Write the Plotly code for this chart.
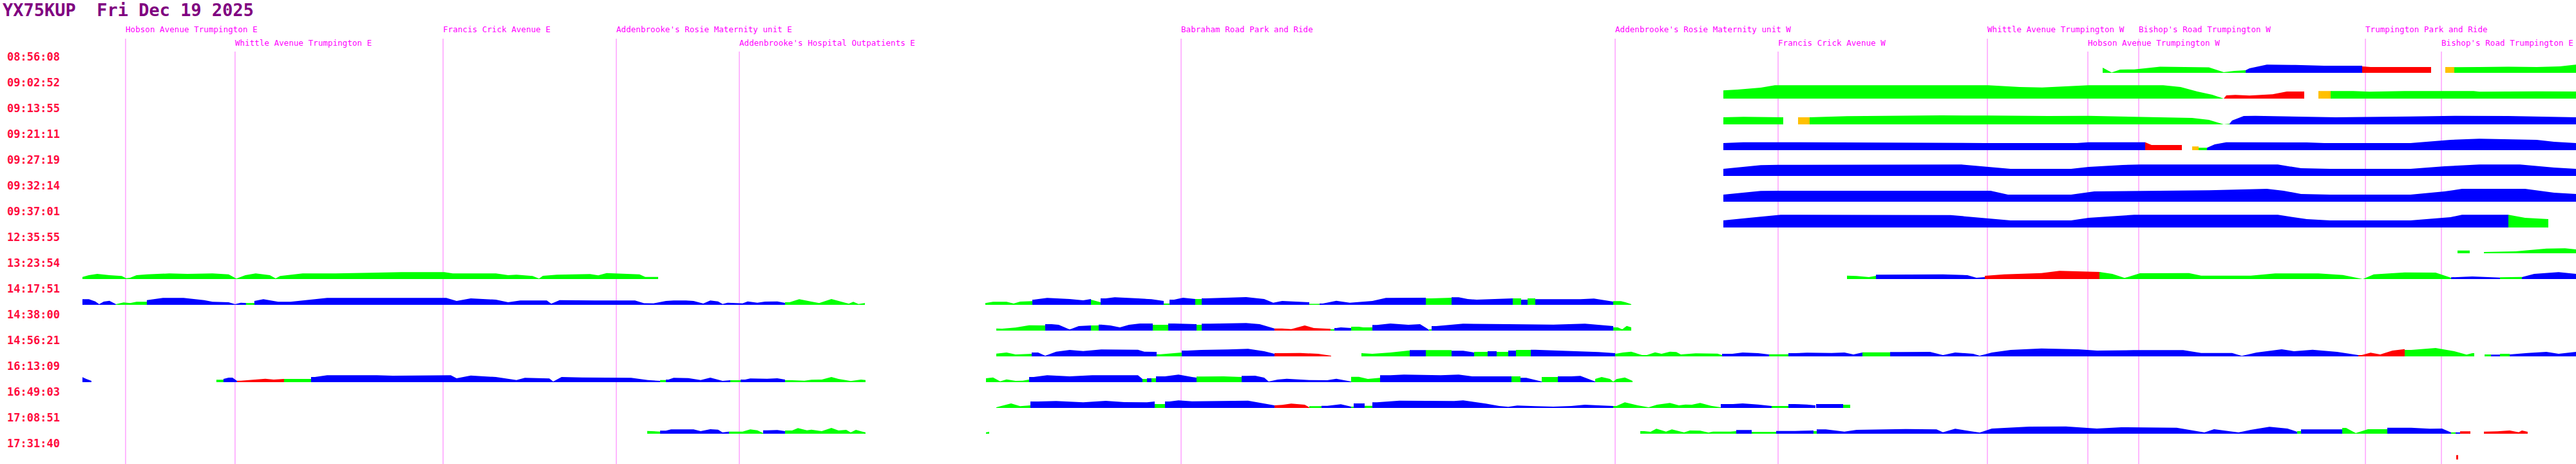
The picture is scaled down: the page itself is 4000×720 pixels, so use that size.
import plotly.graph_objects as go

# ---------------- data ----------------
TITLE = "YX75KUP\u00a0\u00a0Fri Dec 19 2025"

TIMES = ["08:56:08", "09:02:52", "09:13:55", "09:21:11", "09:27:19", "09:32:14",
         "09:37:01", "12:35:55", "13:23:54", "14:17:51", "14:38:00", "14:56:21",
         "16:13:09", "16:49:03", "17:08:51", "17:31:40"]

STOP_NAMES = ["Hobson Avenue Trumpington E", "Whittle Avenue Trumpington E",
              "Francis Crick Avenue E", "Addenbrooke's Rosie Maternity unit E",
              "Addenbrooke's Hospital Outpatients E", "Babraham Road Park and Ride",
              "Addenbrooke's Rosie Maternity unit W", "Francis Crick Avenue W",
              "Whittle Avenue Trumpington W", "Hobson Avenue Trumpington W",
              "Bishop's Road Trumpington W", "Trumpington Park and Ride",
              "Bishop's Road Trumpington E"]
STOP_DIST = [195, 365, 688, 957, 1148, 1834, 2508, 2761, 3086, 3242, 3321, 3673, 3791]

# segments: (state, distances, speeds)
ROW_0856 = [
    ("G", [3265, 3279, 3292, 3314, 3354, 3430, 3453, 3470, 3487], [8, 0.5, 5, 5.3, 9.5, 8.5, 1, 3, 4]),
    ("B", [3487, 3493, 3520, 3564, 3609, 3668], [4, 7, 12.7, 12.3, 11, 11]),
    ("R", [3668, 3681, 3775], [10, 9, 9]),
    ("O", [3797, 3811], [9, 9]),
    ("G", [3811, 3850, 3895, 3939, 3975, 3993, 4000], [8.7, 9, 9.5, 9, 10, 12, 12.7]),
]
ROW_0902 = [
    ("G", [2676, 2698, 2734, 2756, 3087, 3136, 3171, 3243, 3359, 3386, 3412, 3435, 3453],
     [12.7, 14, 17, 20.7, 20.7, 18, 17.3, 20.7, 20.7, 18, 11, 6, 0]),
    ("R", [3453, 3457, 3471, 3493, 3529, 3551, 3578], [0, 5, 5.7, 4.7, 6.7, 11, 11]),
    ("O", [3600, 3619], [11.7, 11.7]),
    ("G", [3619, 3654, 3680, 3734, 3841, 3850, 3877, 3939, 4000],
     [11.7, 11.7, 10.7, 11.7, 11.7, 10.7, 11, 11.3, 11]),
]
ROW_0913 = [
    ("G", [2676, 2707, 2769], [11, 11.7, 11]),
    ("O", [2792, 2810], [11, 11]),
    ("G", [2810, 2868, 2975, 3015, 3087, 3180, 3243, 3314, 3404, 3430, 3453, 3462],
     [11, 12.7, 13.7, 14, 13.7, 13, 13.3, 11.7, 10, 7, 0, 1]),
    ("B", [3462, 3466, 3484, 3502, 3582, 3627, 3743, 3787, 3814, 3895, 3957, 4000],
     [1, 6, 13, 13.3, 11.7, 11, 12.3, 13, 13.3, 13, 12, 11]),
]
ROW_0921 = [
    ("B", [2676, 2707, 2779, 3082, 3225, 3243, 3331], [11, 12.3, 12.3, 11, 11, 12.3, 12.3]),
    ("R", [3331, 3341, 3388], [12.3, 8, 8]),
    ("O", [3404, 3414], [5.7, 5.7]),
    ("G", [3414, 3427], [3.7, 3.7]),
    ("B", [3427, 3439, 3457, 3582, 3609, 3743, 3805, 3850, 3939, 3966, 4000],
     [3.7, 9, 12.3, 12, 11, 11, 16, 17.7, 16, 13, 11]),
]
ROW_0927 = [
    ("B", [2676, 2734, 2761, 3046, 3100, 3122, 3216, 3243, 3296, 3323, 3537, 3573, 3618, 3743,
           3796, 3850, 3913, 3966, 4000],
     [11, 16.7, 17.3, 17.7, 13, 11, 11, 14, 17, 17.7, 17.7, 12, 11, 11, 15, 17.7, 17.7, 13, 11]),
]
ROW_0932 = [
    ("B", [2676, 2734, 2761, 3091, 3118, 3216, 3252, 3430, 3520, 3546, 3573, 3618, 3743, 3796,
           3823, 3921, 3966, 4000],
     [11, 16.7, 17, 17, 11, 11, 16, 17.7, 20, 17, 12, 11, 11, 16, 20, 20, 14, 12]),
]
ROW_0937 = [
    ("B", [2676, 2716, 2765, 3029, 3100, 3122, 3216, 3243, 3314, 3537, 3582, 3618, 3743, 3805,
           3823, 3895],
     [11, 15, 19.7, 19.3, 13, 11, 11, 15, 19.7, 19.7, 13, 11, 11, 16, 19.7, 19.7]),
    ("G", [3895, 3921, 3957], [19.7, 15, 13]),
]
ROW_1235 = [
    ("G", [3816, 3835], [4.3, 4.3]),
    ("G", [3857, 3906, 3925, 3954, 3983, 4000], [2, 3, 5, 7.3, 7.7, 6]),
]
ROW_1323 = [
    ("G", [128, 138, 151, 170, 189, 196, 202, 212, 228, 263, 291, 330, 355, 367, 381, 397, 419,
           428, 435, 470, 521, 575, 623, 690, 703, 770, 789, 802, 827, 837, 843, 865, 916, 929,
           942, 993, 1002, 1022],
     [3.3, 6, 8, 6, 4.7, 1.3, 2, 6, 7.3, 8.7, 8, 8.7, 7.3, 0.7, 6, 8.7, 6, 1, 4.7, 8.7, 8.7,
      9.7, 10.7, 10.7, 8.7, 8.7, 6, 6.7, 4.7, 0.7, 5, 6.7, 7.7, 5.7, 9.3, 7.3, 3.3, 3.3]),
    ("G", [2868, 2883, 2902, 2913], [5.3, 4.7, 3, 5]),
    ("B", [2913, 3017, 3055, 3069, 3082], [6.7, 7.3, 6, 2, 3]),
    ("R", [3082, 3112, 3170, 3198, 3246, 3260], [5, 7.3, 9.3, 12.7, 11, 11]),
    ("G", [3260, 3280, 3299, 3323, 3399, 3418, 3495, 3533, 3600, 3638, 3669, 3686, 3734, 3782, 3806],
     [11, 8, 1.7, 9, 9.3, 5.3, 5.3, 8.7, 8.7, 6.3, 0, 7.3, 10.3, 10, 2]),
    ("B", [3806, 3839, 3882], [2.7, 4, 2.3]),
    ("G", [3882, 3916], [2.7, 3.3]),
    ("B", [3916, 3935, 3973, 4000], [3, 8, 10.7, 8]),
]
ROW_1417 = [
    ("B", [128, 138, 148, 154, 161, 170, 180], [8.7, 8.7, 5.3, 1, 5, 6.3, 1]),
    ("G", [180, 192, 202, 212, 228], [1, 3.7, 2.7, 4.7, 4.7]),
    ("B", [228, 253, 285, 317, 330, 355, 365, 374, 382], [7.3, 10.7, 10.7, 7.3, 4.7, 4, 1, 3.3, 2.7]),
    ("G", [382, 395], [2.7, 2.7]),
    ("B", [395, 409, 432, 451, 483, 508, 610, 693, 709, 731, 770, 789, 808, 849, 856, 869, 923,
           986, 1000, 1015, 1034, 1046, 1065, 1077, 1092, 1103, 1115, 1122, 1130, 1153, 1161,
           1176, 1188, 1207, 1219],
     [6, 8.7, 4.7, 4.7, 8, 10.7, 10.7, 10.7, 6, 10, 8, 4, 6.7, 6.7, 1.7, 7.3, 6.7, 6.7, 2.5,
      2.3, 6, 6.7, 6.7, 6, 2, 6.7, 5.3, 1.3, 3.3, 2.3, 5.3, 3.3, 5, 5.3, 3]),
    ("G", [1219, 1226, 1241, 1260, 1272, 1291, 1306, 1318, 1325, 1333, 1343],
     [4, 4, 8.7, 5, 2.7, 9, 5, 1.7, 4.7, 1.3, 2.7]),
    ("G", [1530, 1542, 1563, 1574, 1584, 1603], [2.7, 4.7, 4.7, 2, 5, 5.7]),
    ("B", [1603, 1605, 1626, 1661, 1682, 1694], [8, 8, 10.7, 9, 7, 9]),
    ("G", [1694, 1709], [8, 4]),
    ("B", [1709, 1717, 1731, 1767, 1788, 1807], [10, 10, 11.7, 10, 8.7, 6]),
    ("G", [1807, 1816], [2, 2]),
    ("B", [1816, 1823, 1837, 1856], [8, 8, 11, 9]),
    ("G", [1856, 1866], [9, 9]),
    ("B", [1866, 1872, 1900, 1935, 1963, 1977, 1991, 2030, 2033], [10, 10, 11, 12, 9, 3.3, 6, 4, 4]),
    ("G", [2033, 2049], [1.5, 1.5]),
    ("B", [2049, 2054, 2075, 2096, 2131, 2152, 2214], [2, 2, 6.3, 3.3, 6, 10.7, 11]),
    ("G", [2214, 2222, 2244, 2254], [10, 10, 11, 11]),
    ("B", [2254, 2265, 2279, 2293, 2342, 2349], [11.7, 11.7, 9, 8, 10, 10]),
    ("G", [2349, 2362], [10, 10]),
    ("B", [2362, 2372], [8, 8]),
    ("G", [2372, 2384], [10, 10]),
    ("B", [2384, 2412, 2454, 2475, 2496, 2505], [8.7, 8.7, 8.7, 9.7, 6.7, 5]),
    ("G", [2505, 2517, 2524, 2533], [5.7, 5.7, 4, 1]),
]
ROW_1438 = [
    ("G", [1547, 1556, 1577, 1598, 1623], [3.3, 3, 4.7, 8.3, 8]),
    ("B", [1623, 1633, 1644, 1661, 1675, 1694], [10, 10, 9, 1.7, 7, 8]),
    ("G", [1694, 1706], [8, 8]),
    ("B", [1706, 1710, 1724, 1739, 1753, 1770, 1790], [9.3, 9.3, 8, 5, 9, 11, 11]),
    ("G", [1790, 1814], [9, 9]),
    ("B", [1814, 1823, 1858], [11, 11, 10]),
    ("G", [1858, 1866], [9, 9]),
    ("B", [1866, 1879, 1935, 1956, 1979], [10.7, 10.7, 11.7, 10, 3.3]),
    ("R", [1979, 1991, 2005, 2026, 2040, 2066], [3.3, 3.3, 2.3, 8, 4, 2.7]),
    ("G", [2066, 2072], [2, 2]),
    ("B", [2072, 2075, 2082, 2098], [4, 4, 5, 4]),
    ("G", [2098, 2110, 2117, 2131], [6, 6, 5, 5]),
    ("B", [2131, 2138, 2159, 2187, 2205, 2216, 2219], [8.7, 8.7, 11, 9, 10, 3.3, 1]),
    ("G", [2219, 2223], [2, 2]),
    ("B", [2223, 2230, 2272, 2342, 2412, 2461, 2496, 2505], [7, 7, 10.7, 10, 9.3, 10.7, 8, 7]),
    ("G", [2505, 2512, 2519, 2526, 2533], [5, 5, 2, 7.3, 5]),
]
ROW_1456 = [
    ("G", [1547, 1563, 1577, 1584, 1602], [4.3, 6, 3, 3.3, 4]),
    ("B", [1602, 1612, 1623, 1640, 1661, 1682, 1710, 1767, 1777, 1796],
     [6, 6, 1, 7.3, 10, 8.3, 10.7, 10.3, 7.3, 7]),
    ("G", [1796, 1802, 1823, 1835], [3.3, 3.3, 4.7, 6]),
    ("B", [1835, 1844, 1865, 1907, 1938, 1963, 1979], [9, 9, 10, 10.7, 11.7, 8, 4]),
    ("R", [1979, 1991, 2019, 2047, 2067], [5, 5, 5.3, 4, 1]),
    ("G", [2114, 2131, 2159, 2187, 2189], [5, 4, 6, 9, 9]),
    ("B", [2189, 2214], [9.7, 9.7]),
    ("G", [2214, 2254], [9.7, 9.7]),
    ("B", [2254, 2272, 2289], [8.7, 8.7, 6]),
    ("G", [2289, 2310], [7, 7]),
    ("B", [2310, 2324], [8, 8]),
    ("G", [2324, 2342], [7, 7]),
    ("B", [2342, 2354], [9, 9]),
    ("G", [2354, 2377], [10, 10]),
    ("B", [2377, 2384, 2412, 2454, 2482, 2508], [10.3, 10.3, 9.3, 8, 6.7, 5]),
    ("G", [2508, 2510, 2520, 2533, 2540, 2550, 2557, 2570, 2580, 2593, 2603, 2610, 2633, 2667, 2674],
     [4.3, 4.3, 6, 7.3, 5, 2, 2, 6.3, 4, 7.3, 6.7, 3, 4.7, 4.3, 2]),
    ("B", [2674, 2690, 2706, 2730, 2747], [4, 4, 6, 5, 3]),
    ("G", [2747, 2777], [3.3, 3.3]),
    ("B", [2777, 2787, 2806, 2844, 2864, 2878, 2892], [5, 5, 5.7, 5.3, 6, 3, 6]),
    ("G", [2892, 2935], [6.3, 6.3]),
    ("B", [2935, 2950, 2997, 3017, 3036, 3064, 3074, 3093, 3122, 3170, 3227, 3256, 3313, 3390,
           3418, 3466, 3481, 3504, 3543, 3562, 3591, 3629, 3658, 3662],
     [6.7, 6.7, 7, 2, 6, 4, 1, 6, 10, 12.3, 11, 9, 9.7, 9.7, 5.3, 5.3, 0.7, 6, 11, 8, 10.3, 7,
      2.7, 2]),
    ("R", [3662, 3667, 3681, 3696, 3715, 3734], [2, 2, 5.7, 3, 9, 11.3]),
    ("G", [3734, 3744, 3782, 3811, 3830, 3839, 3842], [10, 10, 13, 8, 2.7, 5, 5]),
    ("G", [3858, 3868], [3, 3]),
    ("B", [3868, 3882], [2.7, 2.7]),
    ("G", [3882, 3897], [4, 4]),
    ("B", [3897, 3925, 3954, 3973, 4000], [3, 5.3, 7, 4, 7]),
]
ROW_1613 = [
    ("B", [128, 134, 142], [7.7, 5, 2]),
    ("G", [336, 347], [3.7, 3.7]),
    ("B", [347, 355, 361, 368], [5, 7, 7, 2]),
    ("R", [368, 374, 393, 412, 425, 441], [2.3, 2.3, 4, 5.3, 4, 5]),
    ("G", [441, 483], [5, 5]),
    ("B", [483, 489, 508, 585, 610, 700, 709, 731, 770, 802, 815, 853, 859, 872, 904, 980, 1006, 1025],
     [8, 8, 10.7, 10.7, 10, 10.7, 6, 10.3, 8, 3.3, 6.7, 5.7, 1, 8, 7.3, 6.7, 3.3, 2]),
    ("G", [1025, 1034], [3.3, 3.3]),
    ("B", [1034, 1038, 1046, 1069, 1088, 1103, 1115, 1122, 1134], [4, 4, 6.7, 6.3, 3.3, 7, 4, 2, 3]),
    ("G", [1134, 1150], [3, 3]),
    ("B", [1150, 1157, 1165, 1191, 1207, 1219], [4, 4, 5.7, 5.3, 6, 4]),
    ("G", [1219, 1230, 1249, 1260, 1276, 1291, 1302, 1314, 1321, 1337, 1344],
     [3, 3, 2.3, 3.7, 4, 8, 5, 3, 1.7, 4, 3.3]),
    ("G", [1531, 1542, 1553, 1563, 1577, 1588, 1598], [6, 7.3, 1.3, 4.3, 2, 2.3, 4]),
    ("B", [1598, 1605, 1626, 1661, 1696, 1767, 1774], [8, 8, 10.7, 9, 10.7, 10.7, 5]),
    ("G", [1774, 1781], [5, 5]),
    ("B", [1781, 1788], [6, 6]),
    ("G", [1788, 1795], [6, 6]),
    ("B", [1795, 1809, 1830, 1851, 1858], [9, 9, 11.7, 8, 7]),
    ("G", [1858, 1870, 1900, 1928], [8.7, 8.7, 9, 8]),
    ("B", [1928, 1935, 1949, 1963, 1970, 1984, 1998, 2033, 2061, 2075, 2098],
     [9.7, 9.7, 10, 7, 1, 4, 5.3, 3.3, 3, 5.3, 1]),
    ("G", [2098, 2110, 2124, 2143], [8.3, 8.3, 5, 6.7]),
    ("B", [2143, 2159, 2180, 2237, 2265, 2286, 2347], [10.7, 10.7, 11.7, 10.7, 11.7, 9, 9]),
    ("G", [2347, 2361], [9, 9]),
    ("B", [2361, 2370, 2394], [6.7, 6.7, 1]),
    ("G", [2394, 2419], [8, 8]),
    ("B", [2419, 2440, 2454, 2477], [9, 9, 9.7, 1]),
    ("G", [2477, 2487, 2500, 2505, 2510, 2523, 2535], [5, 8, 5, 0.7, 4.7, 7.3, 2]),
]
ROW_1649 = [
    ("G", [1547, 1570, 1584, 1600], [1, 7, 2.7, 4]),
    ("B", [1600, 1612, 1640, 1682, 1717, 1746, 1781, 1793], [10, 10, 10.7, 8.7, 11, 9, 8.7, 10]),
    ("G", [1793, 1809], [6, 6]),
    ("B", [1809, 1816, 1830, 1851, 1921, 1938, 1979], [10, 10, 11.7, 10.3, 10.7, 11.3, 4]),
    ("R", [1979, 1991, 2005, 2026, 2033], [4, 4.7, 6.7, 5, 1]),
    ("G", [2033, 2052], [2.7, 2.7]),
    ("B", [2052, 2061, 2082, 2098], [3.3, 3.3, 5.7, 2]),
    ("G", [2098, 2102], [2, 2]),
    ("B", [2102, 2119], [7, 7]),
    ("G", [2119, 2131], [3.3, 3.3]),
    ("B", [2131, 2138, 2173, 2258, 2272, 2307, 2328, 2342, 2356, 2384, 2412, 2440, 2461, 2482, 2505],
     [8.7, 8.7, 11.3, 10.7, 11.7, 6.7, 3, 1.7, 3.7, 2.7, 2, 3, 5, 4, 3]),
    ("G", [2505, 2510, 2523, 2543, 2560, 2573, 2593, 2607, 2617, 2627, 2640, 2657, 2672],
     [3, 3, 8.7, 4, 1, 5, 7.7, 4, 5.3, 5, 7.7, 3.3, 1]),
    ("B", [2672, 2682, 2691, 2706, 2730, 2751], [6, 6, 6, 7, 5.3, 3]),
    ("G", [2751, 2777], [3, 3]),
    ("B", [2777, 2787, 2806, 2819], [6, 6, 5.3, 4]),
    ("B", [2820, 2862], [6, 6]),
    ("G", [2862, 2873], [5, 5]),
]
ROW_1708 = [
    ("G", [1005, 1025], [4.3, 3.3]),
    ("B", [1025, 1034, 1042, 1077, 1088, 1103, 1115, 1122, 1132], [4.7, 4.7, 6.7, 6.7, 4, 7, 6.3, 2, 3.3]),
    ("G", [1132, 1153, 1165, 1176, 1185], [3.3, 3.3, 6.7, 5.3, 1]),
    ("B", [1185, 1191, 1207, 1219], [5.3, 5.3, 5.7, 4]),
    ("G", [1219, 1230, 1239, 1253, 1260, 1276, 1291, 1302, 1314, 1321, 1329, 1337, 1344],
     [5, 5, 8.7, 5.3, 6.3, 4, 9, 5, 6, 2, 6, 3.7, 2]),
    ("G", [1531, 1536], [2, 3]),
    ("G", [2547, 2553, 2563, 2572, 2587, 2596, 2615, 2624, 2640, 2653, 2660, 2687, 2696],
     [4, 4, 3, 7.7, 3.3, 6.7, 2, 5, 4.7, 1.7, 3.3, 3.3, 4]),
    ("B", [2696, 2720], [5.7, 5.7]),
    ("G", [2720, 2758], [2.7, 2.7]),
    ("B", [2758, 2787, 2816], [4.3, 4.3, 5]),
    ("G", [2816, 2821], [4, 4]),
    ("B", [2821, 2835, 2864, 2883, 2959, 3007, 3017, 3036, 3064, 3074, 3093, 3151, 3208, 3256,
           3294, 3380, 3423, 3438, 3476, 3495, 3524, 3552, 3567],
     [6.7, 6.7, 3.3, 6, 7.3, 6.7, 2.3, 7.7, 3, 1.7, 8, 11, 11.3, 8, 10, 9.3, 2, 7, 2, 6, 10.7, 8, 3]),
    ("G", [3567, 3573], [4, 4]),
    ("B", [3573, 3637], [6.7, 6.7]),
    ("G", [3637, 3643, 3658, 3677, 3707], [9, 9, 1, 7, 7]),
    ("B", [3707, 3715, 3744, 3773, 3792, 3806], [9.3, 9.3, 9.3, 7.7, 8, 2]),
    ("G", [3806, 3813], [2, 2]),
    ("B", [3813, 3820], [2, 2]),
    ("R", [3820, 3836], [3.7, 3.7]),
    ("R", [3857, 3859, 3878, 3897, 3911, 3916, 3925], [3.3, 3.3, 3.7, 5, 2.3, 5, 3]),
]
ROW_1731 = [
    ("R", [3814, 3817], [6.7, 6.7]),
]

ROWS = [ROW_0856, ROW_0902, ROW_0913, ROW_0921, ROW_0927, ROW_0932, ROW_0937, ROW_1235,
        ROW_1323, ROW_1417, ROW_1438, ROW_1456, ROW_1613, ROW_1649, ROW_1708, ROW_1731]

# ---------------- styling ----------------
W, H = 4000, 720
ROW_PX = 40.0
FIRST_BASE_PX = 113.0
SPEED_TO_ROW = 1.0 / ROW_PX
STATE_COLORS = {"G": "#00ff00", "B": "#0000ff", "R": "#ff0000", "O": "#ffc000"}
MONO = "DejaVu Sans Mono"
STOP_FONT = 12.6

fig = go.Figure()

for state, color in STATE_COLORS.items():
    xs, ys = [], []
    for ri, row in enumerate(ROWS):
        for st, dist, spd in row:
            if st != state:
                continue
            xs += [dist[0]] + list(dist) + [dist[-1], None]
            ys += [ri] + [ri - s * SPEED_TO_ROW for s in spd] + [ri, None]
    fig.add_trace(go.Scatter(x=xs, y=ys, mode="lines", fill="toself", fillcolor=color,
                             line=dict(width=0, color=color), hoverinfo="skip",
                             showlegend=False))

# stop label levels (drop to second line when overlapping the previous top-line label)
CHAR_W = 0.602 * STOP_FONT
shapes, annotations = [], []
last_end = -1e9
for name, d in zip(STOP_NAMES, STOP_DIST):
    if d < last_end:
        level = 2
    else:
        level = 1
        last_end = d + len(name) * CHAR_W
    label_y = 45 if level == 1 else 66
    line_top = 60 if level == 1 else 80
    shapes.append(dict(type="line", xref="x", yref="paper", x0=d, x1=d, y0=0,
                       y1=1 - line_top / H, line=dict(color="#ff70ff", width=1), layer="below"))
    annotations.append(dict(text=name, xref="x", yref="paper", x=d, y=1 - label_y / H,
                            xanchor="left", yanchor="middle", showarrow=False, borderpad=0,
                            xshift=-1, font=dict(family=MONO, size=STOP_FONT, color="#ff00ff")))

for ri, t in enumerate(TIMES):
    annotations.append(dict(text="<b>%s</b>" % t, xref="paper", yref="y", x=10 / W,
                            y=ri - 25 / ROW_PX, xanchor="left", yanchor="middle",
                            showarrow=False, borderpad=0,
                            font=dict(family=MONO, size=17, color="#ff0a3c")))

annotations.append(dict(text="<b>%s</b>" % TITLE, xref="paper", yref="paper", x=3 / W,
                        y=1 - 15 / H, xanchor="left", yanchor="middle", showarrow=False,
                        borderpad=0, font=dict(family=MONO, size=27, color="#800080")))

top_row = -FIRST_BASE_PX / ROW_PX
bottom_row = (H - FIRST_BASE_PX) / ROW_PX
fig.update_layout(
    width=W, height=H, margin=dict(l=0, r=0, t=0, b=0),
    paper_bgcolor="white", plot_bgcolor="white",
    xaxis=dict(range=[0, W], visible=False, fixedrange=True),
    yaxis=dict(range=[bottom_row, top_row], visible=False, fixedrange=True),
    shapes=shapes, annotations=annotations, showlegend=False,
)

fig.write_html("out.html", config={"displayModeBar": False},
               post_script="document.body.style.margin='0';")
